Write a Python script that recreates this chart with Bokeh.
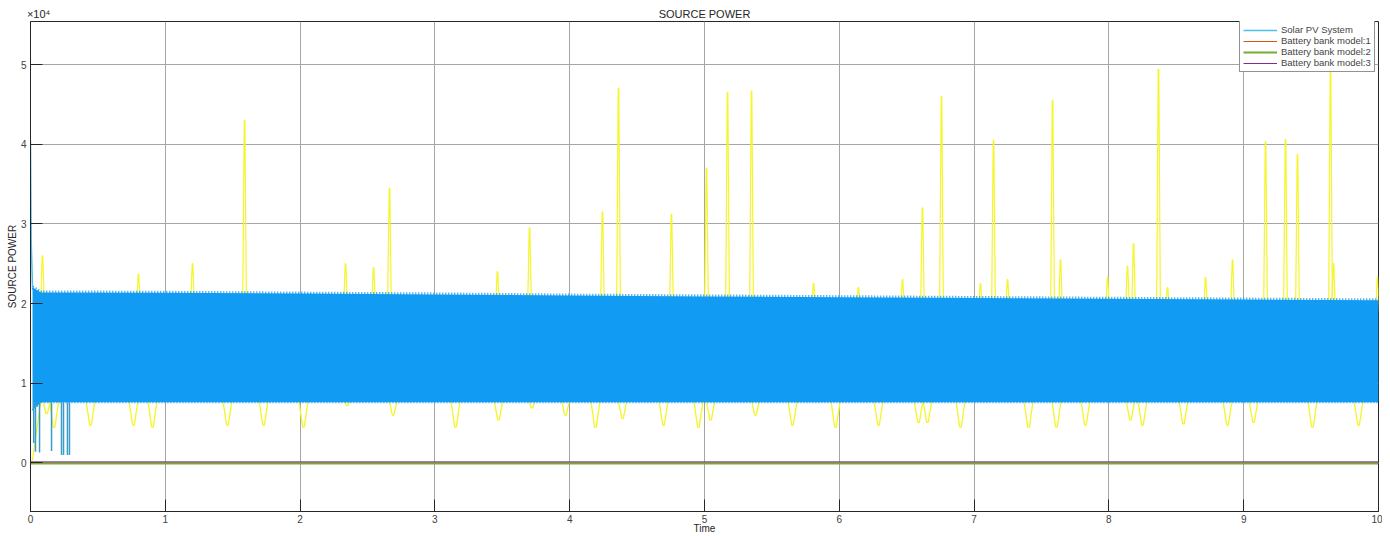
from bokeh.plotting import figure
from bokeh.models import Legend, LegendItem, FixedTicker, Range1d, LinearAxis
from bokeh.embed import file_html
from bokeh.resources import INLINE

# ---------------- data ----------------
# Solar PV System: dense oscillation -> envelope of the band
band_t = [0.015, 0.08, 1, 2, 3, 4, 5, 6, 7, 8, 9, 10]
band_hi = [22000, 21400, 21350, 21250, 21150, 21000, 20900, 20800, 20700, 20600, 20500, 20400]
band_lo = [6600, 7600, 7600, 7600, 7600, 7600, 7600, 7600, 7600, 7600, 7600, 7600]

# Solar PV start transient
pv_start_t = [0.0, 0.005, 0.015]
pv_start_v = [40500, 28000, 22000]
# Solar PV early drops (bottom of each drop)
pv_drop_t = [0.024, 0.037, 0.067, 0.156, 0.230, 0.245, 0.274, 0.289]
pv_drop_v = [2500, 1400, 1300, 1500, 1000, 1000, 1000, 1000]

# Yellow trace (mostly hidden behind the band)
yel_start_t = [0.0, 0.015, 0.074, 0.09]
yel_start_v = [0, 400, 7500, 12000]
yel_up_t = [0.089, 0.801, 1.202, 1.588, 2.337, 2.545, 2.663, 3.464, 3.702, 4.243,
            4.362, 4.755, 5.015, 5.171, 5.349, 5.809, 6.142, 6.469, 6.617, 6.758,
            7.047, 7.144, 7.248, 7.582, 7.641, 7.990, 8.138, 8.183, 8.368, 8.435,
            8.717, 8.917, 9.162, 9.310, 9.399, 9.644, 9.666, 9.993]
yel_up_v = [26000, 23700, 25000, 43000, 25000, 24500, 34500, 24000, 29500, 31500,
            47000, 31200, 37000, 46500, 46700, 22500, 22000, 23000, 32000, 46000,
            22500, 40500, 23000, 45500, 25500, 23300, 24700, 27500, 49400, 22000,
            23300, 25500, 40300, 40600, 38700, 49300, 25000, 23300]
yel_dn_t = [0.12, 0.175, 0.445, 0.764, 0.905, 1.461, 1.729, 2.025, 2.35, 2.69,
            3.153, 3.472, 3.72, 3.969, 4.191, 4.392, 4.696, 4.955, 5.045, 5.378,
            5.653, 5.972, 6.291, 6.588, 6.654, 6.899, 7.404, 7.611, 7.826, 8.160,
            8.249, 8.553, 8.880, 9.073, 9.510, 9.852]
yel_dn_v = [6200, 4500, 4750, 4750, 4500, 4750, 4750, 4500, 7200, 6000,
            4500, 5400, 6900, 6000, 4500, 5600, 4750, 4500, 5400, 6000,
            4750, 4500, 4750, 5100, 5100, 4500, 4500, 4500, 4750, 5400,
            4750, 4900, 4750, 5100, 4500, 4750]

# Battery bank models
bat_t = [0, 10]
bat1_v = [-60, -60]
bat2_v = [-60, -60]
bat3_v = [130, 130]

x_ticks = list(range(0, 11))
y_ticks = [0, 10000, 20000, 30000, 40000, 50000]
y_tick_labels = ["0", "1", "2", "3", "4", "5"]
title_text = "SOURCE POWER"
exponent_text = "×10⁴"

# ---------------- figure ----------------
Y0, Y1 = -6100, 55400
p = figure(width=1382, height=536, output_backend="svg", toolbar_location=None,
           x_range=Range1d(0, 10), y_range=Range1d(Y0, Y1),
           min_border_left=30, min_border_right=4, min_border_top=21, min_border_bottom=24)
p.background_fill_color = "white"
p.border_fill_color = "white"
p.outline_line_color = "#262626"
p.outline_line_width = 1

p.xaxis.ticker = FixedTicker(ticks=x_ticks)
p.yaxis.ticker = FixedTicker(ticks=y_ticks)
p.yaxis.major_label_overrides = {t: l for t, l in zip(y_ticks, y_tick_labels)}
for ax in (p.xaxis, p.yaxis):
    ax.axis_line_color = "#262626"
    ax.major_tick_line_color = "#262626"
    ax.major_tick_in = 12
    ax.major_tick_out = 0
    ax.minor_tick_line_color = None
    ax.major_label_text_font = "Liberation Sans"
    ax.major_label_text_font_size = "10px"
    ax.major_label_text_color = "#404040"
    ax.axis_label_text_font = "Liberation Sans"
    ax.axis_label_text_font_size = "10px"
    ax.axis_label_text_font_style = "normal"
    ax.axis_label_text_color = "#262626"
p.xaxis.axis_label = "Time"
p.yaxis.axis_label = "SOURCE POWER"
p.xaxis.major_label_standoff = 3
p.xaxis.axis_label_standoff = -3
p.yaxis.major_label_standoff = 4
p.yaxis.axis_label_standoff = 0

# top band: title and the y exponent in one row
top = LinearAxis(ticker=FixedTicker(ticks=[0.06, 5]),
                 major_label_overrides={0.06: exponent_text, 5: title_text})
top.axis_line_color = None
top.major_tick_line_color = None
top.major_tick_in = 0
top.major_tick_out = 0
top.minor_tick_line_color = None
top.minor_tick_in = 0
top.minor_tick_out = 0
top.major_label_standoff = 2
top.major_label_text_font = "Liberation Sans"
top.major_label_text_font_size = "11px"
top.major_label_text_color = "#262626"
p.add_layout(top, "above")

p.xgrid.grid_line_color = "#a6a6a6"
p.ygrid.grid_line_color = "#a6a6a6"

YEL = "#F5F528"
BAND = "#129BF2"
PV = "#4DBEEE"

# yellow trace
p.line(yel_start_t, yel_start_v, line_color=YEL, line_width=1.2)
hi_at = lambda t: band_hi[-1] + (band_hi[1] - band_hi[-1]) * (10 - t) / 10
up_xs = [[t - 0.014, t - 0.002, t + 0.002, t + 0.014] for t in yel_up_t]
up_ys = [[hi_at(t) - 1500, v, v, hi_at(t) - 1500] for t, v in zip(yel_up_t, yel_up_v)]
p.multi_line(up_xs, up_ys, line_color=YEL, line_width=1.2)
lo = band_lo[-1]
dn_xs = [[t - 0.045, t - 0.006, t + 0.006, t + 0.045] for t in yel_dn_t]
dn_ys = [[lo + 1500, v, v, lo + 1500] for v in yel_dn_v]
p.multi_line(dn_xs, dn_ys, line_color=YEL, line_width=1.3)

# solar PV band
p.varea(x=band_t, y1=band_lo, y2=band_hi, fill_color=BAND)
p.line(band_t, band_hi, line_color=BAND, line_width=4, line_dash="1 2")
p.line(band_t, band_lo, line_color=BAND, line_width=2, line_dash="1 2")
pv_r = p.line(pv_start_t, pv_start_v, line_color=PV, line_width=1.5)
p.segment(x0=pv_drop_t, y0=[band_lo[1]] * len(pv_drop_t), x1=pv_drop_t, y1=pv_drop_v,
          line_color="#3A9CC8", line_width=1.5)

# battery banks
b1 = p.line(bat_t, bat1_v, line_color="#D95319", line_width=1)
b2 = p.line(bat_t, bat2_v, line_color="#77AC30", line_width=2)
b3 = p.line(bat_t, bat3_v, line_color="#7E2F8E", line_width=1)

legend = Legend(items=[LegendItem(label="Solar PV System", renderers=[pv_r]),
                       LegendItem(label="Battery bank model:1", renderers=[b1]),
                       LegendItem(label="Battery bank model:2", renderers=[b2]),
                       LegendItem(label="Battery bank model:3", renderers=[b3])],
                location=(1209, 439))
legend.label_text_font = "Liberation Sans"
legend.label_text_font_size = "9.5px"
legend.label_height = 10
legend.glyph_height = 10
legend.glyph_width = 34
legend.spacing = 0
legend.padding = 3
legend.margin = 0
legend.label_standoff = 4
legend.border_line_color = "#262626"
legend.border_line_width = 0.8
legend.background_fill_alpha = 1
p.add_layout(legend)

open("out.html", "w").write(file_html(p, INLINE))
